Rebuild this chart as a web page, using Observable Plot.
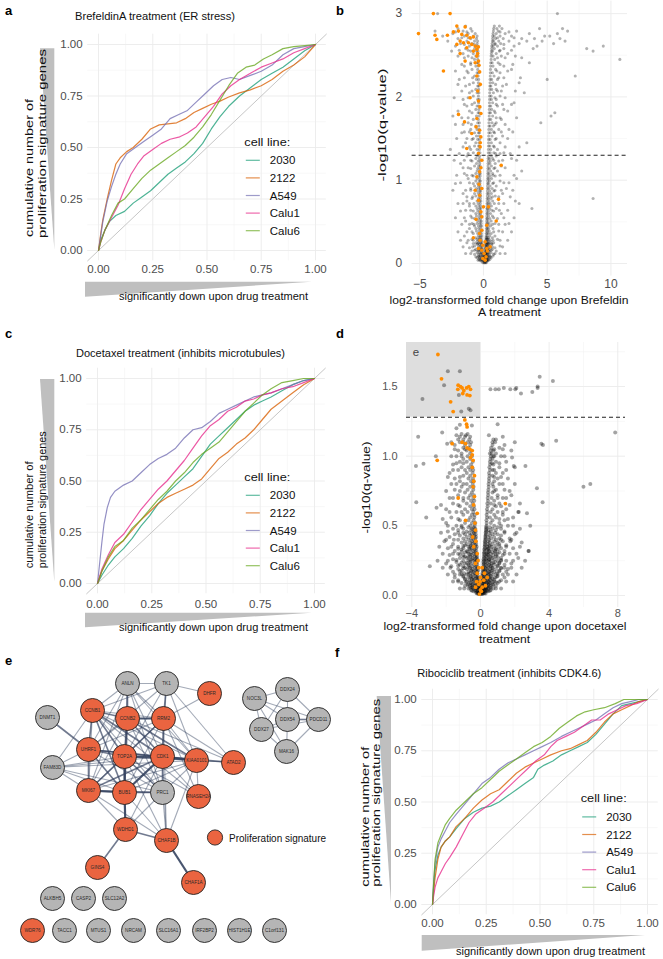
<!DOCTYPE html>
<html><head><meta charset="utf-8">
<script src="https://cdn.jsdelivr.net/npm/d3@7"></script>
<script src="https://cdn.jsdelivr.net/npm/@observablehq/plot@0.6"></script>
<style>
body{margin:0;background:#fff;}
#fig{position:relative;width:663px;height:959px;overflow:hidden;background:#fff;font-family:"Liberation Sans",Arial,sans-serif;}
</style></head><body><div id="fig"></div>
<script>
// ---------------- DATA ----------------
const cellLines = ["2030","2122","A549","Calu1","Calu6"];
const cellColors = ["#1b9e77","#d95f02","#7570b3","#e7298a","#66a61e"];
const cumTicks = [0,0.25,0.5,0.75,1];
const cumMinor = [0.125,0.375,0.625,0.875];
const cumDiag = [-0.05,1.05];

// panel a: BrefeldinA
const a2030 = [[0,0],[0.01,0.05],[0.03,0.1],[0.05,0.14],[0.08,0.17],[0.12,0.19],[0.16,0.23],[0.2,0.26],[0.24,0.29],[0.28,0.33],[0.32,0.37],[0.36,0.4],[0.4,0.43],[0.44,0.47],[0.48,0.52],[0.52,0.59],[0.56,0.65],[0.6,0.7],[0.65,0.75],[0.7,0.79],[0.75,0.83],[0.8,0.86],[0.85,0.89],[0.9,0.93],[0.95,0.97],[1,1]];
const a2122 = [[0,0],[0.01,0.08],[0.02,0.15],[0.04,0.25],[0.06,0.34],[0.08,0.42],[0.1,0.45],[0.13,0.48],[0.16,0.5],[0.2,0.54],[0.24,0.59],[0.28,0.61],[0.32,0.615],[0.36,0.62],[0.4,0.64],[0.44,0.67],[0.48,0.69],[0.52,0.71],[0.56,0.725],[0.6,0.745],[0.65,0.765],[0.7,0.78],[0.75,0.8],[0.8,0.83],[0.85,0.87],[0.9,0.9],[0.95,0.94],[1,1]];
const aA549 = [[0,0],[0.01,0.07],[0.02,0.14],[0.04,0.24],[0.06,0.31],[0.08,0.37],[0.1,0.42],[0.13,0.47],[0.17,0.5],[0.21,0.53],[0.25,0.56],[0.29,0.59],[0.33,0.64],[0.37,0.66],[0.41,0.68],[0.45,0.72],[0.49,0.76],[0.53,0.8],[0.57,0.83],[0.61,0.84],[0.65,0.83],[0.7,0.85],[0.75,0.87],[0.8,0.9],[0.85,0.95],[0.9,0.98],[0.95,0.99],[1,1]];
const aCalu1 = [[0,0],[0.01,0.04],[0.03,0.1],[0.06,0.16],[0.09,0.22],[0.12,0.3],[0.15,0.37],[0.18,0.42],[0.21,0.46],[0.25,0.49],[0.29,0.52],[0.33,0.54],[0.37,0.55],[0.41,0.57],[0.45,0.6],[0.49,0.65],[0.53,0.7],[0.57,0.76],[0.61,0.8],[0.65,0.83],[0.7,0.86],[0.75,0.89],[0.8,0.91],[0.85,0.93],[0.9,0.96],[0.95,0.98],[1,1]];
const aCalu6 = [[0,0],[0.01,0.04],[0.03,0.1],[0.06,0.17],[0.09,0.23],[0.12,0.25],[0.16,0.3],[0.2,0.35],[0.24,0.39],[0.28,0.42],[0.32,0.45],[0.36,0.48],[0.4,0.51],[0.44,0.55],[0.48,0.6],[0.52,0.66],[0.56,0.73],[0.6,0.8],[0.64,0.86],[0.68,0.89],[0.72,0.9],[0.76,0.93],[0.8,0.95],[0.85,0.98],[0.9,0.99],[0.95,0.995],[1,1]];

// panel c: Docetaxel
const c2030 = [[0,0],[0.02,0.04],[0.05,0.09],[0.08,0.13],[0.12,0.17],[0.16,0.22],[0.2,0.28],[0.24,0.33],[0.28,0.39],[0.32,0.44],[0.36,0.48],[0.4,0.52],[0.44,0.56],[0.48,0.62],[0.52,0.68],[0.56,0.72],[0.6,0.76],[0.64,0.8],[0.68,0.84],[0.72,0.87],[0.76,0.89],[0.8,0.91],[0.85,0.94],[0.9,0.97],[0.95,0.99],[1,1]];
const c2122 = [[0,0],[0.02,0.06],[0.05,0.12],[0.08,0.17],[0.12,0.21],[0.16,0.26],[0.2,0.31],[0.24,0.35],[0.28,0.39],[0.32,0.42],[0.36,0.44],[0.4,0.46],[0.44,0.48],[0.48,0.51],[0.52,0.56],[0.56,0.61],[0.6,0.64],[0.64,0.68],[0.68,0.71],[0.72,0.75],[0.76,0.8],[0.8,0.85],[0.85,0.89],[0.9,0.93],[0.95,0.97],[1,1]];
const cA549 = [[0,0],[0.01,0.1],[0.02,0.2],[0.03,0.29],[0.045,0.37],[0.06,0.42],[0.08,0.45],[0.12,0.48],[0.16,0.5],[0.2,0.54],[0.24,0.58],[0.28,0.61],[0.32,0.63],[0.36,0.66],[0.4,0.71],[0.44,0.75],[0.48,0.76],[0.52,0.79],[0.56,0.83],[0.6,0.85],[0.64,0.87],[0.68,0.89],[0.72,0.91],[0.76,0.92],[0.8,0.93],[0.85,0.95],[0.9,0.97],[0.95,0.99],[1,1]];
const cCalu1 = [[0,0],[0.02,0.07],[0.05,0.14],[0.08,0.2],[0.12,0.24],[0.16,0.3],[0.2,0.36],[0.24,0.41],[0.28,0.46],[0.32,0.5],[0.36,0.55],[0.4,0.6],[0.44,0.66],[0.48,0.72],[0.52,0.77],[0.56,0.8],[0.6,0.84],[0.64,0.86],[0.68,0.89],[0.72,0.9],[0.76,0.92],[0.8,0.93],[0.85,0.95],[0.9,0.96],[0.95,0.98],[1,1]];
const cCalu6 = [[0,0],[0.02,0.06],[0.05,0.13],[0.08,0.18],[0.12,0.21],[0.16,0.27],[0.2,0.31],[0.24,0.36],[0.28,0.41],[0.32,0.45],[0.36,0.5],[0.4,0.54],[0.44,0.59],[0.48,0.63],[0.52,0.66],[0.56,0.69],[0.6,0.74],[0.64,0.79],[0.68,0.84],[0.72,0.88],[0.76,0.92],[0.8,0.95],[0.85,0.98],[0.9,0.99],[0.95,1],[1,1]];

// panel f: Ribociclib
const f2030 = [[0,0],[0.005,0.08],[0.012,0.17],[0.025,0.24],[0.04,0.28],[0.06,0.31],[0.08,0.33],[0.11,0.37],[0.15,0.42],[0.19,0.45],[0.23,0.47],[0.27,0.48],[0.31,0.5],[0.35,0.53],[0.39,0.56],[0.43,0.59],[0.47,0.62],[0.49,0.66],[0.52,0.68],[0.56,0.7],[0.6,0.73],[0.64,0.75],[0.68,0.77],[0.72,0.79],[0.76,0.83],[0.8,0.88],[0.84,0.93],[0.88,0.97],[0.92,0.98],[0.96,0.99],[1,1]];
const f2122 = [[0,0],[0.005,0.06],[0.012,0.13],[0.025,0.22],[0.04,0.28],[0.06,0.31],[0.08,0.33],[0.11,0.38],[0.15,0.42],[0.19,0.47],[0.23,0.51],[0.27,0.54],[0.31,0.56],[0.35,0.6],[0.39,0.64],[0.43,0.67],[0.47,0.69],[0.51,0.71],[0.55,0.73],[0.6,0.75],[0.64,0.76],[0.68,0.78],[0.72,0.8],[0.76,0.84],[0.8,0.89],[0.84,0.93],[0.88,0.95],[0.92,0.97],[0.96,0.99],[1,1]];
const fA549 = [[0,0],[0.005,0.1],[0.012,0.2],[0.025,0.28],[0.04,0.32],[0.06,0.36],[0.08,0.4],[0.11,0.44],[0.15,0.49],[0.19,0.54],[0.23,0.59],[0.27,0.62],[0.31,0.66],[0.35,0.69],[0.39,0.71],[0.43,0.73],[0.47,0.75],[0.51,0.77],[0.55,0.79],[0.6,0.82],[0.64,0.84],[0.68,0.86],[0.72,0.88],[0.76,0.9],[0.8,0.93],[0.84,0.96],[0.88,0.98],[0.92,0.99],[0.96,1],[1,1]];
const fCalu1 = [[0,0],[0.005,0.04],[0.012,0.085],[0.025,0.13],[0.04,0.16],[0.06,0.2],[0.08,0.23],[0.11,0.28],[0.14,0.34],[0.17,0.4],[0.2,0.44],[0.24,0.47],[0.28,0.5],[0.32,0.54],[0.36,0.58],[0.4,0.62],[0.44,0.66],[0.48,0.7],[0.52,0.73],[0.55,0.77],[0.58,0.8],[0.62,0.82],[0.66,0.84],[0.7,0.87],[0.74,0.9],[0.78,0.9],[0.82,0.93],[0.86,0.95],[0.9,0.97],[0.95,0.98],[1,1]];
const fCalu6 = [[0,0],[0.005,0.1],[0.012,0.22],[0.025,0.3],[0.04,0.34],[0.06,0.39],[0.08,0.42],[0.11,0.46],[0.15,0.5],[0.19,0.54],[0.23,0.57],[0.27,0.61],[0.31,0.65],[0.35,0.68],[0.39,0.71],[0.43,0.74],[0.47,0.77],[0.51,0.79],[0.55,0.82],[0.59,0.86],[0.63,0.89],[0.67,0.92],[0.71,0.94],[0.75,0.95],[0.8,0.96],[0.85,0.98],[0.89,1],[1,1]];

// panel b: volcano BrefeldinA  (rows: [-log10 q, log2FC values...])
const bThreshold = 1.3;
const bGrayRows = [
[0.01,-0.05,0.05,0.1,0.16,0.22],
[0.03,-0.2,-0.1,0,0.06,0.12,0.18,0.25,0.32],
[0.05,-0.35,-0.2,-0.1,-0.02,0.06,0.12,0.18,0.25,0.35,0.5],
[0.07,-0.5,-0.3,-0.15,-0.05,0.03,0.1,0.16,0.22,0.3,0.42,0.6],
[0.09,-0.4,-0.25,-0.12,0,0.08,0.14,0.2,0.27,0.36,0.5,0.75],
[0.11,-0.7,-0.38,-0.22,-0.1,0.02,0.12,0.18,0.25,0.33,0.45,0.8],
[0.13,-0.5,-0.3,-0.16,-0.06,0.1,0.16,0.22,0.3,0.4,0.6],
[0.15,-0.9,-0.45,-0.26,-0.12,0.13,0.2,0.28,0.37,0.5,1.0],
[0.17,-0.6,-0.34,-0.18,-0.08,0.15,0.22,0.3,0.42,0.7],
[0.19,-1.1,-0.42,-0.25,-0.12,0.14,0.2,0.27,0.38,0.55,0.9],
[0.21,-0.7,-0.36,-0.2,-0.1,0.16,0.24,0.33,0.47,1.3],
[0.23,-0.5,-0.3,-0.15,0.17,0.22,0.3,0.4,0.65],
[0.25,-1.3,-0.6,-0.38,-0.22,-0.12,0.18,0.26,0.35,0.5,0.8],
[0.27,-0.45,-0.28,-0.15,0.19,0.28,0.42,0.6],
[0.29,-0.9,-0.5,-0.32,-0.17,0.2,0.25,0.33,0.45,1.1],
[0.31,-0.6,-0.35,-0.2,0.2,0.28,0.38,0.7],
[0.33,-1.5,-0.4,-0.25,-0.14,0.21,0.3,0.5,0.9],
[0.36,-0.8,-0.45,-0.28,-0.16,0.22,0.29,0.4,0.6],
[0.39,-0.55,-0.32,-0.18,0.23,0.32,0.45,1.2],
[0.42,-1.1,-0.6,-0.36,-0.2,0.23,0.3,0.4,0.75],
[0.45,-0.7,-0.4,-0.24,-0.15,0.24,0.35,0.55],
[0.48,-0.9,-0.5,-0.3,-0.18,0.24,0.32,0.44,0.9,2.0],
[0.51,-1.4,-0.45,-0.26,-0.17,0.25,0.36,0.6],
[0.54,-0.7,-0.38,-0.22,0.25,0.32,0.5,1.1],
[0.57,-1.0,-0.55,-0.32,-0.19,0.26,0.4,0.7],
[0.6,-0.6,-0.35,-0.22,0.26,0.35,0.55,1.4],
[0.63,-1.8,-0.8,-0.45,-0.27,0.27,0.4,0.8],
[0.66,-0.5,-0.3,-0.2,0.27,0.33,0.48,1.0,3.8],
[0.69,-1.1,-0.6,-0.36,-0.22,0.28,0.42,0.62],
[0.72,-0.75,-0.42,-0.25,0.28,0.37,0.52,1.2],
[0.75,-1.3,-0.5,-0.3,-0.21,0.29,0.44,0.72,2.5],
[0.78,-0.9,-0.4,-0.24,0.29,0.38,0.58,8.6],
[0.81,-0.6,-0.33,-0.22,0.3,0.47,0.92],
[0.84,-1.6,-0.7,-0.4,-0.25,0.3,0.4,0.62,1.5],
[0.87,-0.5,-0.3,-0.22,0.31,0.5,0.82],
[0.9,-1.0,-0.55,-0.35,-0.24,0.31,0.42,0.68,1.8],
[0.93,-0.7,-0.4,-0.26,0.32,0.52,1.0],
[0.96,-2.2,-0.8,-0.45,-0.28,0.32,0.4,0.72],
[0.99,-0.6,-0.33,-0.24,0.33,0.47,1.3],
[1.02,-1.2,-0.5,-0.3,0.33,0.42,0.63,2.6],
[1.05,-0.8,-0.4,-0.26,0.34,0.52,0.92],
[1.08,-1.5,-0.6,-0.34,-0.25,0.34,0.44,0.72],
[1.11,-0.5,-0.3,0.35,0.57,1.1,3.0],
[1.14,-1.0,-0.45,-0.28,0.35,0.47,0.82],
[1.17,-0.7,-0.38,-0.26,0.36,0.62,1.4],
[1.2,-1.8,-0.55,-0.3,0.36,0.5,0.92],
[1.23,-0.9,-0.42,-0.27,0.37,0.54,1.2],
[1.26,-0.6,-0.32,0.37,0.47,0.72,2.2],
[1.29,-1.3,-0.5,-0.3,0.38,0.62,1.0],
[1.33,-0.8,-0.4,-0.28,0.38,0.52,0.82,1.6],
[1.37,-2.6,-1.0,-0.5,-0.32,0.39,0.57,1.1],
[1.41,-0.7,-0.38,-0.3,0.39,0.5,0.78],
[1.45,-1.4,-0.6,-0.35,0.4,0.62,1.3,3.4],
[1.49,-0.9,-0.45,-0.3,0.4,0.52,0.92],
[1.53,-0.55,-0.34,0.41,0.67,1.5],
[1.57,-1.7,-0.7,-0.4,-0.31,0.42,0.54,0.87],
[1.61,-1.0,-0.5,-0.33,0.42,0.62,1.2,2.0],
[1.65,-0.6,-0.36,0.43,0.52,0.78],
[1.69,-1.2,-0.45,-0.32,0.43,0.67,1.0,4.5],
[1.73,-0.8,-0.4,0.44,0.57,1.4],
[1.77,-2.4,-0.55,-0.34,0.45,0.72,5.3],
[1.81,-0.9,-0.42,-0.33,0.45,0.55,0.92,5.6],
[1.85,-0.6,-0.36,0.46,0.64,1.6],
[1.89,-1.3,-0.5,-0.35,0.46,0.57,1.1],
[1.93,-0.7,-0.38,0.47,0.72,2.4],
[1.97,-1.6,-0.45,-0.34,0.48,0.62,1.0],
[2.01,-0.8,-0.4,0.48,0.6,1.3],
[2.05,-1.1,-0.5,-0.36,0.49,0.78,3.2],
[2.09,-0.6,-0.38,0.5,0.65,1.0],
[2.13,-1.4,-0.45,-0.36,0.5,0.58,1.5],
[2.17,-0.8,-0.4,0.52,0.73,2.8],
[2.21,-1.9,-0.55,-0.38,0.52,0.64,1.1,5.0],
[2.25,-0.7,-0.42,0.53,0.83,7.2],
[2.29,-1.2,-0.5,-0.38,0.54,0.7,1.3],
[2.33,-0.9,-0.45,0.55,0.95,2.2],
[2.37,-1.5,-0.6,-0.4,0.56,0.75,1.6],
[2.41,-1.0,-0.5,-0.42,0.57,0.68,1.15,3.6],
[2.45,-0.7,-0.45,0.6,0.88,10.7],
[2.49,-2.0,-1.2,-0.6,-0.42,0.6,0.75,1.4,2.5],
[2.52,-1.6,-0.8,-0.48,0.62,1.0,1.9],
[2.55,-2.5,-1.0,-0.55,-0.43,0.62,0.72,1.25,8.6],
[2.58,-1.4,-0.7,-0.47,0.65,0.85,1.6,3.9,8.1],
[2.61,-2.2,-1.1,-0.6,-0.45,0.65,0.75,1.1,2.4,4.2,9.4],
[2.64,-1.8,-0.9,-0.5,0.68,0.92,1.35,2.8,5.5],
[2.67,-2.8,-1.3,-0.7,-0.46,0.7,0.8,1.2,2.0,3.4,4.6,6.4],
[2.7,-2.0,-1.0,-0.55,0.72,0.95,1.55,3.0,4.0,6.0],
[2.73,-3.2,-1.5,-0.8,-0.5,0.72,0.85,1.3,2.2,4.8,5.2],
[2.76,-2.4,-1.2,-0.65,0.75,1.0,1.7,3.6,5.8],
[2.79,-3.8,-1.6,-0.9,0.78,1.15,2.6,6.6],
[2.82,-2.0,-1.0,0.8,1.05,1.45,4.4,6.2],
[2.85,-1.4,0.85,1.25],
[3.0,-3.6,5.8]
];
const bGrayWide = [
[0.12,-1.4,-1.0,0.9,1.3,1.7],[0.2,-1.6,-0.85,0.7,1.5],[0.28,-1.8,-1.2,-0.8,0.75,1.3,1.9],
[0.38,-2.0,-1.3,-0.9,0.8,1.5,2.2],[0.47,-1.7,-1.1,-0.75,0.7,1.2,1.7],[0.55,-2.2,-1.5,-0.9,0.8,1.6,2.4],
[0.64,-1.4,-1.0,0.65,1.25,1.9],[0.72,-2.0,-1.6,-1.1,0.85,1.6,2.8],[0.8,-1.3,-0.85,0.7,1.2,2.1],
[0.88,-2.4,-1.4,-1.0,0.9,1.4,2.3],[0.97,-1.8,-1.1,0.8,1.6,2.0],[1.06,-2.1,-1.3,-0.9,0.75,1.3,2.4],
[1.15,-1.6,-1.2,0.9,1.7],[1.24,-2.3,-1.5,-1.0,0.8,1.5,2.6],[1.32,-1.9,-1.2,0.95,1.3,2.1],
[1.4,-1.6,-1.1,0.85,1.7,2.8],[1.5,-2.1,-1.3,-0.8,1.0,1.9],[1.58,-1.5,-1.1,0.8,1.4,2.3],
[1.67,-2.2,-1.6,-0.95,0.9,1.7],[1.75,-1.7,-1.2,1.0,1.3,2.6],[1.83,-2.0,-1.1,0.85,1.9],
[1.91,-1.5,-0.9,1.0,1.5,2.2],[1.99,-2.3,-1.2,0.9,1.7],[2.07,-1.7,-0.9,1.1,1.4,2.5],
[2.15,-2.0,-1.1,0.95,1.8],[2.23,-1.5,-0.85,1.2,1.6,2.9],[2.31,-2.2,-1.3,1.05,1.9],
[2.39,-1.7,-1.0,1.3,2.3],[2.47,-1.5,-0.9,1.1,1.7,3.0],[2.56,-1.9,-1.2,1.3,2.2],
[2.63,-1.5,-0.75,0.9,1.6],[2.71,-1.7,-1.2,1.1,2.4],[2.78,-2.2,-1.3,1.3,2.0],
[0.04,-0.42,-0.28,0.28,0.4],[0.08,-0.6,-0.35,0.32,0.55],[0.16,-0.7,-0.4,0.34,0.6],[0.24,-0.8,-0.45,0.4,0.65]
];
const bOrange = [[-3.93,3.0],[-2.62,3.0],[-5.1,2.76],[-3.8,2.74],[-3.66,2.69],[-2.83,2.74],[-2.09,2.85],[-1.96,2.79],[-1.44,2.84],[-2.36,2.78],[-1.7,2.75],[-1.31,2.74],[-1.05,2.71],[-0.79,2.72],[-1.83,2.67],[-1.57,2.65],[-1.18,2.65],[-0.92,2.63],[-0.65,2.61],[-0.52,2.57],[-2.09,2.63],[-1.83,2.52],[-1.31,2.59],[-0.79,2.55],[-0.52,2.49],[-0.39,2.43],[-1.44,2.43],[-0.65,2.41],[-3.14,2.31],[-0.52,2.25],[-0.45,2.07],[-1.05,1.99],[-0.39,1.95],[-1.96,1.79],[-0.52,1.74],[-1.49,1.7],[-0.58,1.64],[-0.92,1.56],[-0.21,1.52],[-1.31,1.38],[-0.26,1.4],[-0.39,1.32],[-0.13,1.24],[1.39,1.18],[-0.52,1.04],[-0.65,0.88],[-0.13,0.9],[1.18,0.77],[-0.39,0.76],[0,0.68],[0.39,0.68],[-0.58,0.53],[-0.13,0.56],[1.0,0.51],[0.26,0.46],[-0.13,0.4],[-0.79,0.31],[-0.26,0.28],[0.13,0.26],[-0.05,0.22],[0.52,0.2],[0.26,0.18],[-0.13,0.16],[0.05,0.12],[0.2,0.08],[-0.05,0.06],[0.13,0.04],[0.31,0.15],[-0.39,0.18],[-0.31,0.36],[-0.3,2.3],[-0.25,2.15],[-0.28,1.88],[-0.2,1.8],[-0.3,1.6],[-0.25,1.45],[-0.2,1.15],[-0.3,1.1],[-0.35,0.95],[-0.3,0.82],[-0.2,0.62],[-0.4,2.6],[-0.45,2.52],[-0.35,2.38]];

// panel d: volcano Docetaxel
const dThreshold = 1.28;
const dGrayRows = [
[0.01,-0.1,-0.03,0.03,0.1],
[0.02,-0.25,-0.15,-0.05,0.05,0.15,0.25],
[0.03,-0.4,-0.2,-0.1,0,0.08,0.18,0.3,0.45],
[0.04,-0.55,-0.3,-0.15,-0.05,0.05,0.12,0.22,0.35,0.6],
[0.05,-0.7,-0.4,-0.22,-0.1,0,0.1,0.2,0.3,0.45,0.75],
[0.06,-0.5,-0.3,-0.15,-0.05,0.08,0.16,0.28,0.4,0.55],
[0.07,-0.9,-0.6,-0.35,-0.2,-0.08,0.05,0.14,0.25,0.38,0.6,0.9],
[0.08,-0.7,-0.45,-0.25,-0.12,0.1,0.2,0.32,0.48,0.7],
[0.09,-1.1,-0.55,-0.32,-0.18,-0.07,0.12,0.24,0.36,0.55,1.0],
[0.1,-0.8,-0.4,-0.22,-0.1,0.08,0.18,0.3,0.45,0.8],
[0.11,-1.3,-0.65,-0.38,-0.2,0.1,0.22,0.38,0.6,1.2],
[0.12,-0.9,-0.5,-0.28,-0.14,0.12,0.26,0.42,0.7],
[0.13,-1.5,-0.7,-0.42,-0.22,-0.1,0.15,0.3,0.5,0.85,1.4],
[0.14,-1.0,-0.55,-0.3,-0.15,0.1,0.2,0.36,0.6,1.0],
[0.15,-1.2,-0.8,-0.45,-0.25,0.14,0.28,0.45,0.75,1.3],
[0.16,-0.95,-0.6,-0.35,-0.18,0.12,0.22,0.38,0.6,0.95],
[0.17,-1.6,-0.7,-0.4,-0.2,0.16,0.3,0.5,0.8,1.5],
[0.18,-1.1,-0.5,-0.28,-0.14,0.14,0.26,0.42,0.68,1.1],
[0.19,-1.3,-0.8,-0.45,-0.22,0.18,0.34,0.55,0.9,1.6],
[0.2,-0.9,-0.6,-0.32,-0.16,0.15,0.28,0.45,0.7,1.2],
[0.21,-1.7,-1.0,-0.5,-0.25,0.2,0.38,0.6,1.0],
[0.22,-1.2,-0.7,-0.36,-0.18,0.17,0.3,0.5,0.8,1.4],
[0.23,-2.0,-0.9,-0.55,-0.28,0.2,0.4,0.65,1.1,1.8],
[0.24,-1.4,-0.6,-0.32,-0.2,0.16,0.3,0.52,0.85],
[0.25,-1.0,-0.7,-0.4,-0.22,0.2,0.36,0.6,1.0,1.5],
[0.26,-1.6,-0.5,-0.3,-0.18,0.18,0.32,0.5,0.8],
[0.27,-1.2,-0.8,-0.45,-0.24,0.22,0.4,0.7,1.2,2.2],
[0.28,-0.9,-0.6,-0.34,-0.2,0.2,0.34,0.55,0.9],
[0.29,-1.8,-1.0,-0.5,-0.26,0.24,0.45,0.75,1.3],
[0.3,-1.3,-0.7,-0.38,-0.22,0.2,0.36,0.6,1.0,1.7],
[0.31,-0.9,-0.55,-0.3,0.22,0.42,0.7,1.1],
[0.32,-1.5,-0.8,-0.42,-0.24,0.25,0.5,0.85,1.4,2.8],
[0.33,-1.1,-0.6,-0.35,0.22,0.38,0.62,1.0],
[0.34,-1.9,-1.0,-0.5,-0.26,0.26,0.45,0.8,1.2,1.9],
[0.35,-1.3,-0.7,-0.4,-0.22,0.24,0.4,0.65],
[0.36,-0.9,-0.55,-0.3,0.27,0.5,0.9,1.5],
[0.37,-1.6,-0.8,-0.45,-0.25,0.25,0.42,0.7,1.1],
[0.38,-1.1,-0.6,-0.35,0.28,0.55,1.0,2.4],
[0.39,-2.1,-0.9,-0.5,-0.27,0.26,0.45,0.8,1.3],
[0.4,-1.3,-0.7,-0.4,0.28,0.5,0.9],
[0.41,-1.0,-0.55,-0.3,0.3,0.62,1.1,1.7],
[0.42,-1.8,-0.8,-0.45,-0.26,0.28,0.45,0.8],
[0.43,-1.2,-0.6,-0.35,0.3,0.55,1.2],
[0.44,-1.5,-0.9,-0.5,-0.28,0.32,0.7,1.0,2.0],
[0.45,-1.0,-0.65,-0.38,0.3,0.5,0.85],
[0.46,-1.9,-0.8,-0.42,-0.28,0.33,0.6,1.4],
[0.47,-1.3,-0.55,-0.32,0.32,0.48,0.9],
[0.48,-1.6,-1.0,-0.5,-0.3,0.34,0.7,1.2,2.3],
[0.49,-1.1,-0.7,-0.4,0.33,0.55,1.0],
[0.5,-1.4,-0.6,-0.34,0.35,0.8,1.6],
[0.52,-2.0,-0.9,-0.5,-0.3,0.36,0.6,1.1],
[0.54,-1.2,-0.7,-0.4,0.35,0.7,1.4],
[0.56,-1.7,-0.6,-0.36,0.38,0.55,0.9,1.9],
[0.58,-1.0,-0.5,-0.33,0.36,0.8,1.3],
[0.6,-1.4,-0.75,-0.42,0.4,0.6,1.0],
[0.62,-2.0,-0.9,-0.5,-0.35,0.38,0.7,1.5],
[0.64,-1.2,-0.6,-0.38,0.42,0.9,1.2],
[0.66,-1.6,-0.8,-0.45,0.4,0.6,1.1,2.3],
[0.68,-1.0,-0.55,-0.36,0.44,0.8],
[0.7,-1.8,-0.7,-0.42,0.42,0.65,1.3],
[0.72,-1.3,-0.6,-0.38,0.45,1.0,1.8],
[0.74,-0.9,-0.5,0.44,0.7],
[0.76,-1.5,-0.75,-0.42,0.46,0.9,1.4],
[0.78,-1.1,-0.6,-0.4,0.48,0.75],
[0.8,-1.7,-0.8,-0.45,0.47,1.1,2.0],
[0.82,-1.2,-0.55,-0.4,0.5,0.8],
[0.84,-1.5,-0.7,-0.44,0.5,1.0,1.6],
[0.86,-1.0,-0.6,0.52,0.7],
[0.88,-1.8,-0.8,-0.46,0.5,0.9,1.3],
[0.9,-1.3,-0.6,-0.42,0.55,0.8],
[0.92,-1.1,-0.7,-0.48,0.52,1.1,2.0],
[0.94,-1.6,-0.55,0.56,0.75],
[0.96,-1.2,-0.8,-0.45,0.55,0.9,1.5],
[0.98,-1.0,-0.6,0.58,0.7],
[1.0,-1.4,-0.75,-0.5,0.6,0.8,1.2],
[1.02,-1.1,-0.6,0.55,0.65,0.9],
[1.04,-1.3,-0.8,-0.55,0.6,0.75,1.8],
[1.06,-1.0,-0.7,0.62,1.1],
[1.08,-1.5,-0.9,-0.6,0.7,1.4],
[1.1,-1.2,-0.75,-0.55,0.85,2.0],
[1.12,-1.3,-1.0,-0.65,0.75],
[1.14,-1.2,-0.9,-0.6,1.3],
[1.16,-1.1,-0.75]
];
const dGrayWide = [
[0.05,-1.2,-0.95,0.9,1.2],[0.1,-1.6,-1.3,1.1,1.5,1.9],[0.15,-1.9,-1.5,1.6,2.1],[0.2,-2.2,-1.75,1.4,1.8,2.4],
[0.25,-2.5,-1.9,1.2,1.9,2.6],[0.3,-2.2,-1.6,1.4,2.1],[0.35,-2.4,-1.7,1.5,2.3],[0.4,-2.0,-1.55,1.2,1.8],
[0.45,-2.3,-1.3,1.4,2.1],[0.5,-1.9,-1.1,1.2,1.9],[0.55,-2.2,-1.3,1.1,1.6],[0.6,-1.8,-1.1,1.3,2.2],
[0.65,-2.3,-1.3,0.8,1.7],[0.7,-1.6,-1.0,1.0,1.5],[0.75,-2.0,-1.2,0.8,1.7],[0.8,-1.4,-1.0,0.7,1.3],
[0.85,-1.9,-1.2,0.8,1.2],[0.9,-1.6,-0.9,0.7,1.5],[0.95,-1.4,-1.0,0.68,1.1],[1.0,-1.7,-1.1,0.75,1.4],
[1.05,-1.5,-0.9,0.8],[1.1,-1.7,-1.0,0.7],[1.15,-1.4,-0.85],
[0.015,-0.2,-0.12,0.12,0.2,0.3],[0.035,-0.5,-0.3,0.25,0.4,0.55],[0.055,-0.6,-0.45,0.35,0.6],[0.075,-0.75,-0.5,0.45,0.75],
[0.095,-0.85,-0.6,0.5,0.7,0.9],[0.115,-0.9,-0.5,0.55,0.8],[0.135,-1.0,-0.6,0.6,0.95],[0.155,-1.1,-0.7,0.5,1.0],
[0.175,-1.2,-0.55,0.6,1.1],[0.195,-1.0,-0.65,0.7,1.2],[0.215,-1.3,-0.7,0.6,1.0],[0.235,-1.1,-0.8,0.75,1.1],
[0.255,-1.4,-0.6,0.5,1.2],[0.275,-1.0,-0.7,0.6,1.0],[0.295,-1.2,-0.6,0.4,0.9],[0.315,-1.1,-0.75,0.5,0.85],
[0.335,-1.3,-0.65,0.45,0.9],[0.355,-1.0,-0.6,0.55,1.1]
];
const dGrayExtra = [[-1.9,1.61],[-1.2,1.61],[-2.12,1.51],[-3.38,1.41],[-1.12,1.32],[-0.68,1.34],[-0.58,1.33],[-1.26,1.44],[0.58,1.48],[1.07,1.48],[1.36,1.49],[1.74,1.48],[2.03,1.48],[2.36,1.45],[3.02,1.46],[3.33,1.49],[3.33,1.5],[3.45,1.57],[4.22,1.54],[0.87,1.48],[2.09,1.49],[4.41,1.11],[3.55,1.09],[3.64,1.08],[7.85,1.17],[6.0,0.78],[6.4,0.8],[2.62,0.93],[1.94,0.93],[1.84,0.99],[3.29,0.77],[3.62,0.67],[2.71,0.59],[2.9,0.5],[2.23,0.6],[2.81,0.32],[1.74,0.39],[-3.63,1.14],[-3.32,0.945],[-3.76,0.93],[-2.6,1.0],[-3.74,0.67],[-3.16,0.56],[-2.56,0.63],[-2.95,0.21],[-2.23,1.17],[-1.94,1.09],[-1.2,1.225],[-0.5,1.22],[0.49,1.15],[1.0,1.23],[-1.4,1.2],[0.9,1.12],[1.3,1.05]];
const dOrange = [[-2.48,1.73],[-2.27,1.555],[-1.74,1.39],[-1.59,1.32],[-1.3,1.51],[-1.16,1.5],[-1.32,1.48],[-1.07,1.49],[-0.97,1.47],[-0.81,1.49],[-0.68,1.5],[-0.58,1.48],[-1.03,1.45],[-0.78,1.44],[-0.62,1.435],[-0.91,1.26],[-0.81,1.23],[-0.78,1.21],[-1.65,1.09],[-1.07,1.1],[-0.87,1.09],[-0.78,1.06],[-0.62,1.05],[-0.48,1.04],[-0.48,1.01],[-0.58,0.99],[-0.43,0.97],[-2.52,0.97],[-0.48,0.92],[-0.39,0.82],[-0.43,0.78],[-0.35,0.71],[-1.3,0.7],[1.45,0.66],[-0.87,0.54],[-0.29,0.47],[-0.39,0.35],[-0.19,0.3],[-0.29,0.23],[-0.1,0.2],[0.1,0.2],[-0.19,0.16],[0,0.13],[0.19,0.11],[-0.1,0.08],[0.1,0.06],[0,0.04],[-0.06,0.01],[0.23,0.16],[-0.23,0.1],[-0.29,0.06],[0.29,0.07],[0.39,0.13],[-0.14,0.25],[-0.27,0.39],[-0.19,0.59],[-0.35,0.86],[-0.4,0.65],[-0.32,0.52],[-0.45,0.42],[0.05,0.03],[-0.02,0.1]];

// panel e: network (name, layout x, layout y, proliferation signature 1/0)
const eNodes = [
["ANLN",127,683,0],["TK1",166,683,0],["DHFR",209,693,1],["DNMT1",47,717,0],["CCNB1",92,710,1],
["CCNB2",127,718,1],["RRM2",163,718,1],["UHRF1",88,749,1],["TOP2A",124,756,1],["CDK1",162,756,1],
["KIAA0101",196,760,1],["ATAD2",233,762,1],["FAM83D",52,767,0],["MKI67",88,790,1],["BUB1",124,792,1],
["PRC1",162,792,0],["RNASEH2A",198,796,1],["WDHD1",125,829,1],["CHAF1B",166,840,1],["GINS4",97,867,1],
["CHAF1A",193,882,1],["NOC3L",254,698,0],["DDX24",287,689,0],["DDX54",287,719,0],["PDCD11",318,719,0],
["DDX27",261,729,0],["MAK16",286,751,0],["ALKBH5",52,898,0],["CASP2",83,898,0],["SLC12A2",114,898,0],
["WDR76",32,930,1],["TACC1",64,930,0],["MTUS1",98,930,0],["NRCAM",133,930,0],["SLC16A1",168,930,0],
["IRF2BP2",204,930,0],["HIST1H1E",239,930,0],["C1orf131",274,930,0]
];
const eEdges = [
["ANLN","CCNB1",1],["ANLN","CCNB2",2],["ANLN","TOP2A",1],["ANLN","CDK1",1],["ANLN","UHRF1",1],["ANLN","MKI67",1],["ANLN","BUB1",1],["ANLN","PRC1",1],["ANLN","KIAA0101",1],["ANLN","TK1",1],["ANLN","RRM2",1],
["TK1","RRM2",2],["TK1","CDK1",1],["TK1","TOP2A",1],["TK1","CCNB1",1],["TK1","KIAA0101",1],["TK1","DHFR",1],["TK1","ATAD2",1],["TK1","UHRF1",1],
["DHFR","RRM2",1],["DNMT1","UHRF1",2],
["FAM83D","UHRF1",1],["FAM83D","MKI67",1],["FAM83D","BUB1",1],["FAM83D","TOP2A",1],["FAM83D","CDK1",1],["FAM83D","CCNB1",1],["FAM83D","KIAA0101",1],["FAM83D","PRC1",1],
["CCNB1","CCNB2",2],["CCNB1","TOP2A",2],["CCNB1","CDK1",2],["CCNB1","BUB1",2],["CCNB1","MKI67",1],["CCNB1","UHRF1",2],["CCNB1","KIAA0101",1],["CCNB1","RRM2",1],["CCNB1","PRC1",1],["CCNB1","RNASEH2A",1],
["CCNB2","CDK1",2],["CCNB2","TOP2A",2],["CCNB2","RRM2",3],["CCNB2","BUB1",2],["CCNB2","MKI67",1],["CCNB2","UHRF1",1],["CCNB2","KIAA0101",2],["CCNB2","PRC1",1],["CCNB2","ATAD2",1],
["RRM2","TOP2A",2],["RRM2","CDK1",2],["RRM2","KIAA0101",1],["RRM2","UHRF1",1],["RRM2","MKI67",1],["RRM2","BUB1",1],["RRM2","RNASEH2A",1],["RRM2","ATAD2",1],["RRM2","CHAF1B",1],
["TOP2A","CDK1",3],["TOP2A","BUB1",3],["TOP2A","MKI67",2],["TOP2A","UHRF1",2],["TOP2A","KIAA0101",2],["TOP2A","PRC1",2],["TOP2A","RNASEH2A",1],["TOP2A","WDHD1",1],["TOP2A","CHAF1B",1],["TOP2A","ATAD2",1],
["CDK1","BUB1",3],["CDK1","MKI67",2],["CDK1","UHRF1",2],["CDK1","KIAA0101",3],["CDK1","PRC1",2],["CDK1","RNASEH2A",1],["CDK1","ATAD2",2],["CDK1","WDHD1",1],["CDK1","CHAF1B",1],
["KIAA0101","ATAD2",1],["KIAA0101","UHRF1",2],["KIAA0101","MKI67",1],["KIAA0101","BUB1",1],["KIAA0101","PRC1",1],["KIAA0101","RNASEH2A",1],["KIAA0101","CHAF1B",1],
["UHRF1","MKI67",2],["UHRF1","BUB1",2],["UHRF1","PRC1",1],
["MKI67","BUB1",3],["MKI67","PRC1",2],["MKI67","WDHD1",1],["MKI67","CHAF1B",1],
["BUB1","PRC1",2],["BUB1","WDHD1",3],["BUB1","CHAF1B",1],["PRC1","CHAF1B",1],["PRC1","WDHD1",1],
["WDHD1","CHAF1B",2],["WDHD1","GINS4",2],["CHAF1B","CHAF1A",3],
["NOC3L","DDX24",1],["NOC3L","DDX27",1],["NOC3L","DDX54",1],["NOC3L","PDCD11",1],["NOC3L","MAK16",1],["DDX24","DDX54",1],["DDX24","PDCD11",1],["DDX24","DDX27",1],["DDX54","PDCD11",2],["DDX54","DDX27",1],["DDX54","MAK16",1],["DDX27","MAK16",1],["PDCD11","MAK16",1],["DDX27","PDCD11",1]
];

// ---------------- RENDER ----------------
const FONT = '"Liberation Sans", Arial, Helvetica, sans-serif';
const ORANGE_PT = "#ff8c00";
const NODE_ORANGE = "#ea6440";
const NODE_GRAY = "#b5b5b5";
const fig = document.getElementById("fig");
function place(el, left, top) {
  el.style.position = "absolute"; el.style.left = left + "px"; el.style.top = top + "px";
  el.style.background = "transparent"; el.style.maxWidth = "none"; el.style.overflow = "visible";
  fig.appendChild(el);
}
const rowsToPts = rows => rows.flatMap(([y, ...xs]) => xs.map(x => ({x, y})));

function cumPanel(series, g) {
  const ux = g.x1 - g.x0, uy = g.y0 - g.y1;
  const pl = g.x0 - 0.05 * ux, pr = g.x1 + 0.05 * ux, pt = g.y1 - 0.05 * uy, pb = g.y0 + 0.05 * uy;
  const rows = cellLines.flatMap((c, i) => series[i].map(([x, y]) => ({line: c, x, y})));
  const svg = Plot.plot({
    width: g.w, height: g.h,
    marginLeft: pl - g.left, marginRight: g.left + g.w - pr, marginTop: pt - g.top, marginBottom: g.top + g.h - pb,
    x: {domain: [-0.05, 1.05], ticks: cumTicks, tickFormat: d3.format(".2f"), tickSize: 0, tickPadding: g.padX, label: null},
    y: {domain: [-0.05, 1.05], ticks: cumTicks, tickFormat: d3.format(".2f"), tickSize: 0, tickPadding: 5, label: null},
    color: {domain: cellLines, range: cellColors},
    style: {fontFamily: FONT, fontSize: "11.5px", color: "#4d4d4d", background: "transparent"},
    marks: [
      Plot.ruleX(cumMinor, {stroke: "#f4f4f4", strokeWidth: 0.6}),
      Plot.ruleY(cumMinor, {stroke: "#f4f4f4", strokeWidth: 0.6}),
      Plot.ruleX(cumTicks, {stroke: "#ebebeb", strokeWidth: 0.9}),
      Plot.ruleY(cumTicks, {stroke: "#ebebeb", strokeWidth: 0.9}),
      Plot.line(cumDiag, {x: d => d, y: d => d, stroke: "#c6c6c6", strokeWidth: 1}),
      Plot.line(rows, {x: "x", y: "y", z: "line", stroke: "line", strokeWidth: 1.2, strokeOpacity: 0.78})
    ]
  });
  place(svg, g.left, g.top);
}

cumPanel([a2030, a2122, aA549, aCalu1, aCalu6], {left: 0, top: 0, w: 330, h: 300, x0: 98, x1: 315, y1: 44, y0: 250, padX: 3.6});
cumPanel([c2030, c2122, cA549, cCalu1, cCalu6], {left: 0, top: 330, w: 330, h: 300, x0: 97, x1: 314, y1: 378, y0: 583, padX: 5.6});
cumPanel([f2030, f2122, fA549, fCalu1, fCalu6], {left: 334, top: 655, w: 329, h: 304, x0: 432, x1: 647, y1: 699, y0: 904, padX: 4.3});

// volcano b
const bGray = rowsToPts(bGrayRows).concat(rowsToPts(bGrayWide));
const bX = [-5.6, 11.3], bY = [-0.15, 3.15];
place(Plot.plot({
  width: 333, height: 320, marginLeft: 81.6, marginRight: 36, marginTop: 0.6, marginBottom: 44.5,
  x: {domain: bX, ticks: [-5, 0, 5, 10], tickSize: 0, tickPadding: 3, label: null},
  y: {domain: bY, ticks: [0, 1, 2, 3], tickFormat: d3.format("d"), tickSize: 0, tickPadding: 10, label: null},
  style: {fontFamily: FONT, fontSize: "12px", color: "#4d4d4d", background: "transparent"},
  marks: [
    Plot.ruleX([-2.5, 2.5, 7.5], {stroke: "#f4f4f4", strokeWidth: 0.6}),
    Plot.ruleY([0.5, 1.5, 2.5], {stroke: "#f4f4f4", strokeWidth: 0.6}),
    Plot.ruleX([-5, 0, 5, 10], {stroke: "#ebebeb", strokeWidth: 0.9}),
    Plot.ruleY([0, 1, 2, 3], {stroke: "#ebebeb", strokeWidth: 0.9}),
    Plot.dot(bGray, {x: "x", y: "y", r: 1.55, fill: "#000", fillOpacity: 0.3}),
    Plot.dot(bOrange, {x: d => d[0], y: d => d[1], r: 1.8, fill: ORANGE_PT}),
    Plot.ruleY([bThreshold], {stroke: "#222", strokeWidth: 1.1, strokeDasharray: "4,3"})
  ]
}), 330, 0);

// volcano d
const dGray = rowsToPts(dGrayRows).concat(rowsToPts(dGrayWide), dGrayExtra.map(([x, y]) => ({x, y})));
const dX = [-4.31, 8.45], dY = [-0.086, 1.816];
place(Plot.plot({
  width: 333, height: 285, marginLeft: 76, marginRight: 38, marginTop: 7, marginBottom: 13,
  x: {domain: dX, ticks: [-4, 0, 4, 8], tickSize: 0, tickPadding: 1.3, label: null},
  y: {domain: dY, ticks: [0, 0.5, 1, 1.5], tickFormat: d3.format(".1f"), tickSize: 0, tickPadding: 9, label: null},
  style: {fontFamily: FONT, fontSize: "11px", color: "#555", background: "transparent"},
  marks: [
    Plot.ruleX([-2, 2, 6], {stroke: "#f4f4f4", strokeWidth: 0.6}),
    Plot.ruleY([0.25, 0.75, 1.25, 1.75], {stroke: "#f4f4f4", strokeWidth: 0.6}),
    Plot.ruleX([-4, 0, 4, 8], {stroke: "#ebebeb", strokeWidth: 0.9}),
    Plot.ruleY([0, 0.5, 1, 1.5], {stroke: "#ebebeb", strokeWidth: 0.9}),
    Plot.rect([{x1: dX[0], x2: 0, y1: dThreshold, y2: dY[1]}], {x1: "x1", x2: "x2", y1: "y1", y2: "y2", fill: "#dedede"}),
    Plot.dot(dGray, {x: "x", y: "y", r: 2, fill: "#000", fillOpacity: 0.36}),
    Plot.dot(dOrange, {x: d => d[0], y: d => d[1], r: 1.9, fill: ORANGE_PT}),
    Plot.ruleY([dThreshold], {stroke: "#222", strokeWidth: 1.1, strokeDasharray: "4,3"})
  ]
}), 330, 335);

// network e
const nodeRows = eNodes.map(([name, x, y, p]) => ({name, x, y, p}));
const pos = new Map(nodeRows.map(d => [d.name, d]));
const linkOpts = (w) => ({
  x1: d => pos.get(d[0]).x, y1: d => pos.get(d[0]).y, x2: d => pos.get(d[1]).x, y2: d => pos.get(d[1]).y,
  stroke: "#34425f",
  strokeOpacity: w === 1 ? 0.45 : w === 2 ? 0.7 : 0.9,
  strokeWidth: w === 1 ? 1.1 : w === 2 ? 1.6 : 2.2
});
place(Plot.plot({
  width: 330, height: 320, margin: 0,
  x: {domain: [0, 330], range: [0, 330], axis: null},
  y: {domain: [640, 960], range: [0, 320], axis: null},
  style: {fontFamily: FONT, background: "transparent"},
  marks: [
    Plot.link(eEdges.filter(e => e[2] === 1), linkOpts(1)),
    Plot.link(eEdges.filter(e => e[2] === 2), linkOpts(2)),
    Plot.link(eEdges.filter(e => e[2] === 3), linkOpts(3)),
    Plot.dot(nodeRows.filter(d => !d.p), {x: "x", y: "y", r: 12, fill: NODE_GRAY, stroke: "#222", strokeWidth: 0.9}),
    Plot.dot(nodeRows.filter(d => d.p), {x: "x", y: "y", r: 12, fill: NODE_ORANGE, stroke: "#222", strokeWidth: 0.9}),
    Plot.text(nodeRows, {x: "x", y: "y", text: "name", fontSize: 4.6, fill: "#2a2a2a"})
  ]
}), 0, 640);

// ---------------- overlay: titles, labels, legends, arrows ----------------
const ov = d3.create("svg").attr("width", 663).attr("height", 959)
  .style("position", "absolute").style("left", "0px").style("top", "0px").style("font-family", FONT);
function label(t, x, y, o = {}) {
  const el = ov.append("text").text(t).attr("font-size", o.size || 11).attr("fill", o.fill || "#1a1a1a");
  if (o.weight) el.attr("font-weight", o.weight);
  if (o.len) el.attr("textLength", o.len).attr("lengthAdjust", "spacingAndGlyphs");
  el.attr("text-anchor", o.anchor || "start");
  if (o.rotate) el.attr("transform", `translate(${x},${y}) rotate(-90)`);
  else el.attr("x", x).attr("y", y).attr("dominant-baseline", "central");
  return el;
}
function tri(pts) { ov.append("polygon").attr("points", pts.map(p => p.join(",")).join(" ")).attr("fill", "#bfbfbf"); }

// panel letters
[["a", 5, 10], ["b", 336, 10], ["c", 5, 333], ["d", 336, 333], ["e", 5, 660], ["f", 335, 652]]
  .forEach(([t, x, y]) => label(t, x, y, {size: 13, weight: "bold", fill: "#000"}));

const panelTitles = ["BrefeldinA treatment (ER stress)", "Docetaxel treatment (inhibits microtubules)", "Ribociclib treatment (inhibits CDK4.6)"];
const cumXLabel = "significantly down upon drug treatment";
const cumYLabel = ["cumulative number of", "proliferation signature genes"];
const legendTitle = "cell line:";
const cumLayout = [
  {title: [75, 16, 160], yTri: [[40, 48.3], [54.3, 48.3], [54.3, 249.3]], xTri: [[85, 281.7], [311.7, 281.7], [85, 296.7]],
   xl: [119, 296, 189], yl: [[33, 237, 138], [45.5, 238, 189]], leg: [244.3, 141.7, 17.6]},
  {title: [76, 353.3, 209], yTri: [[40, 379], [54.3, 379], [54.3, 581.7]], xTri: [[85, 612.7], [311.7, 612.7], [85, 627.3]],
   xl: [119, 627.3, 189], yl: [[33, 568.3, 107], [45.5, 568.3, 137]], leg: [244.3, 476.7, 17.6]},
  {title: [417.3, 673.3, 184], yTri: [[376.7, 696], [391, 696], [391, 903]], xTri: [[421.7, 935], [645, 935], [421.7, 950.7]],
   xl: [456, 950.5, 189], yl: [[368.5, 886.7, 140], [379.5, 886.7, 188]], leg: [580.7, 798.3, 17.6]}
];
cumLayout.forEach((L, i) => {
  label(panelTitles[i], L.title[0], L.title[1], {size: 11, len: L.title[2], fill: "#111"});
  tri(L.yTri); tri(L.xTri);
  label(cumXLabel, L.xl[0], L.xl[1], {size: 11, len: L.xl[2], fill: "#111"});
  L.yl.forEach(([x, y, len], j) => label(cumYLabel[j], x, y, {size: 11, len, rotate: true, fill: "#111"}));
  const [lx, ly, step] = L.leg;
  label(legendTitle, lx, ly, {size: 11.5, len: 46, fill: "#111"});
  cellLines.forEach((c, k) => {
    const yy = ly + step * (k + 1) + 1;
    ov.append("line").attr("x1", lx + 1.5).attr("x2", lx + 15.5).attr("y1", yy).attr("y2", yy)
      .attr("stroke", cellColors[k]).attr("stroke-opacity", 0.7).attr("stroke-width", 1.2);
    label(c, lx + 25.5, yy, {size: 11.5, fill: "#111"});
  });
});

// volcano labels
const volcYLabel = "-log10(q-value)";
label(volcYLabel, 385.5, 125, {size: 11.5, len: 113, rotate: true, anchor: "middle", fill: "#111"});
label("log2-transformed fold change upon Brefeldin", 509, 300, {size: 11.5, len: 239, anchor: "middle", fill: "#111"});
label("A treatment", 509.5, 312, {size: 11.5, len: 63, anchor: "middle", fill: "#111"});
label(volcYLabel, 370, 487.5, {size: 11.5, len: 92, rotate: true, anchor: "middle", fill: "#111"});
label("log2-transformed fold change upon docetaxel", 505, 625.7, {size: 11.5, len: 243, anchor: "middle", fill: "#111"});
label("treatment", 504.5, 639, {size: 11.5, len: 51, anchor: "middle", fill: "#111"});
label("e", 416, 352, {size: 11.5, anchor: "middle", fill: "#444"});

// network legend
ov.append("circle").attr("cx", 215).attr("cy", 837.5).attr("r", 7.6).attr("fill", NODE_ORANGE).attr("stroke", "#222").attr("stroke-width", 0.9);
label("Proliferation signature", 229, 838, {size: 10, len: 97, fill: "#111"});

fig.appendChild(ov.node());
</script></body></html>
